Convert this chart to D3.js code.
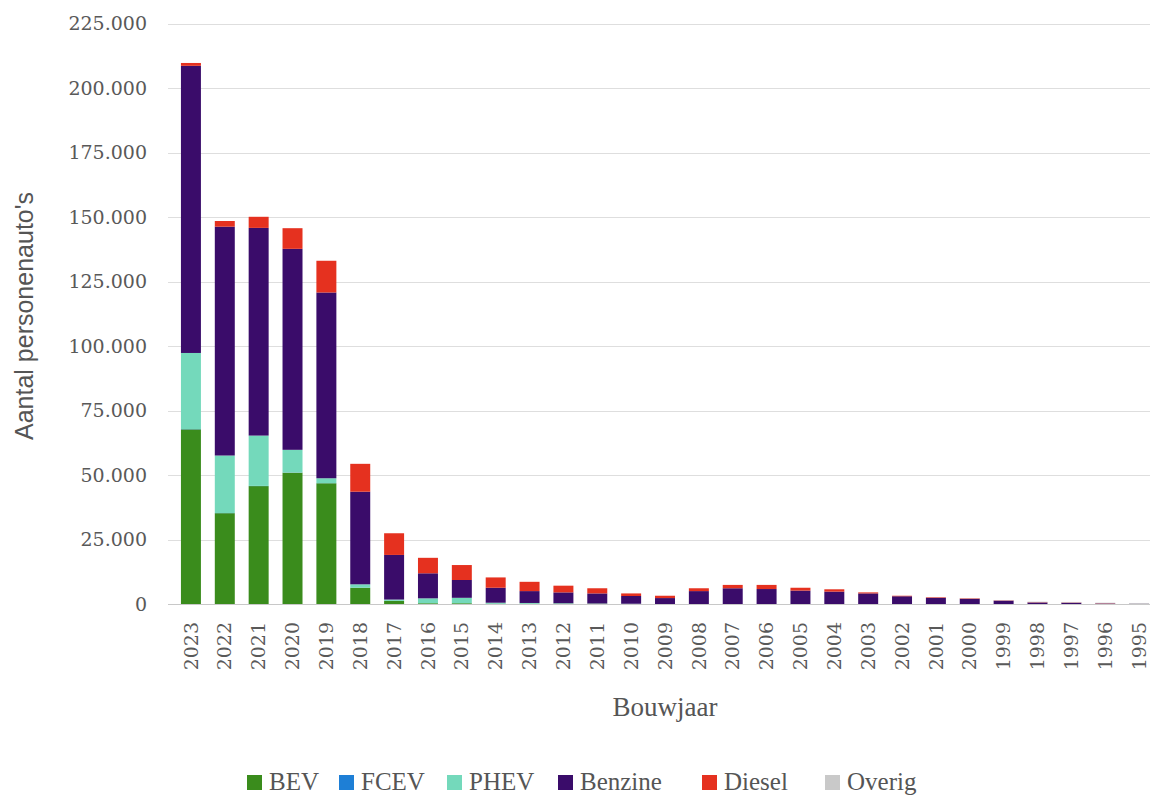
<!DOCTYPE html>
<html>
<head>
<meta charset="utf-8">
<script src="https://cdn.jsdelivr.net/npm/d3@7"></script>
<style>
  html, body { margin: 0; padding: 0; background: #ffffff; }
  svg { display: block; }
</style>
</head>
<body>
<svg id="chart" width="1153" height="796"></svg>
<script>
// ---- data ----
const years = ["2023","2022","2021","2020","2019","2018","2017","2016","2015","2014","2013","2012","2011","2010","2009","2008","2007","2006","2005","2004","2003","2002","2001","2000","1999","1998","1997","1996","1995"];
const seriesNames = ["BEV","FCEV","PHEV","Benzine","Diesel","Overig"];
const seriesColors = ["#3a8c1c","#1e7fd6","#74d9bb","#3a0c6a","#e5311f","#c9c9c9"];
const BEV     = [67700,35200,45700,50900,46800,6300,1200,300,300,100,100,100,100,0,0,0,0,0,0,0,0,0,0,0,0,0,0,0,0];
const FCEV    = [100,50,80,60,40,30,20,0,0,0,0,0,0,0,0,0,0,0,0,0,0,0,0,0,0,0,0,0,0];
const PHEV    = [29500,22300,19500,8800,1900,1300,500,1900,2100,400,300,200,100,100,0,0,0,0,0,0,0,0,0,0,0,0,0,0,0];
const Benzine = [111300,88700,80500,77900,72000,35900,17300,9700,6900,5800,4600,4200,3900,3000,2300,5000,6100,5800,5200,4800,4100,3000,2400,2000,1300,600,500,200,100];
const Diesel  = [1100,2200,4300,8000,12300,10800,8400,6000,5800,4000,3600,2600,2000,1000,900,1100,1300,1600,1100,900,400,200,200,200,100,100,100,100,0];
const Overig  = [0,0,0,0,0,0,0,0,0,0,0,0,0,0,0,0,0,0,0,0,0,0,0,100,100,200,200,200,300];
const yTicks = [0,25000,50000,75000,100000,125000,150000,175000,200000,225000];
const yTitle = "Aantal personenauto's";
const xTitle = "Bouwjaar";

// table built from the arrays
const seriesData = [BEV, FCEV, PHEV, Benzine, Diesel, Overig];
const table = years.map((y, i) => {
  const row = { year: y };
  seriesNames.forEach((s, k) => row[s] = seriesData[k][i]);
  return row;
});
const stacked = d3.stack().keys(seriesNames)(table);

const svg = d3.select("#chart");
const x = d3.scaleBand().domain(years).range([174, 1156]).paddingInner(0.41).paddingOuter(0.205);
const y = d3.scaleLinear().domain([0, 225000]).range([604, 23.5]);
const color = d3.scaleOrdinal().domain(seriesNames).range(seriesColors);

const numFmt = d3.formatLocale({decimal: ",", thousands: ".", grouping: [3], currency: ["€",""]}).format(",");

// gridlines
svg.append("g").selectAll("line").data(yTicks).join("line")
  .attr("x1", 168).attr("x2", 1150)
  .attr("y1", d => Math.round(y(d)) + 0.5).attr("y2", d => Math.round(y(d)) + 0.5)
  .attr("stroke", d => d === 0 ? "#c8c8c8" : "#dedede")
  .attr("stroke-width", 1);

// y axis labels
const yAxis = d3.axisLeft(y).tickValues(yTicks).tickFormat(numFmt).tickSize(0).tickPadding(0);
const gy = svg.append("g").attr("transform", "translate(147,0)").call(yAxis);
gy.select(".domain").remove();
gy.selectAll("text")
  .attr("font-family", "'DejaVu Serif', serif")
  .attr("font-size", 19)
  .attr("fill", "#595959");

// bars
svg.append("g").selectAll("g").data(stacked).join("g")
  .attr("fill", d => color(d.key))
  .selectAll("rect").data(d => d).join("rect")
  .attr("x", d => x(d.data.year))
  .attr("width", x.bandwidth())
  .attr("y", d => y(d[1]))
  .attr("height", d => Math.max(0, y(d[0]) - y(d[1])));

// x axis labels
const xAxis = d3.axisBottom(x).tickSize(0).tickPadding(0);
const gx = svg.append("g").attr("transform", "translate(0,622)").call(xAxis);
gx.select(".domain").remove();
gx.selectAll("text")
  .attr("font-family", "'DejaVu Serif', serif")
  .attr("font-size", 19)
  .attr("fill", "#595959")
  .attr("text-anchor", "end")
  .attr("transform", "rotate(-90)")
  .attr("x", 0)
  .attr("y", 0)
  .attr("dx", 0)
  .attr("dy", "0.35em");

// axis titles
svg.append("text")
  .attr("transform", "translate(33,316) rotate(-90)")
  .attr("text-anchor", "middle")
  .attr("font-family", "'Liberation Sans', sans-serif")
  .attr("font-size", 25)
  .attr("fill", "#555")
  .text(yTitle);

svg.append("text")
  .attr("x", 665).attr("y", 716)
  .attr("text-anchor", "middle")
  .attr("font-family", "'Liberation Serif', serif")
  .attr("font-size", 27)
  .attr("fill", "#555")
  .text(xTitle);

// legend
const legendX = [247, 339, 447, 558, 702, 825];
const lg = svg.append("g").selectAll("g").data(seriesNames).join("g")
  .attr("transform", (d, i) => `translate(${legendX[i]},775)`);
lg.append("rect").attr("width", 15).attr("height", 15).attr("fill", d => color(d));
lg.append("text")
  .attr("x", 22).attr("y", 15)
  .attr("font-family", "'Liberation Serif', serif")
  .attr("font-size", 25)
  .attr("fill", "#555")
  .text(d => d);
</script>
</body>
</html>
